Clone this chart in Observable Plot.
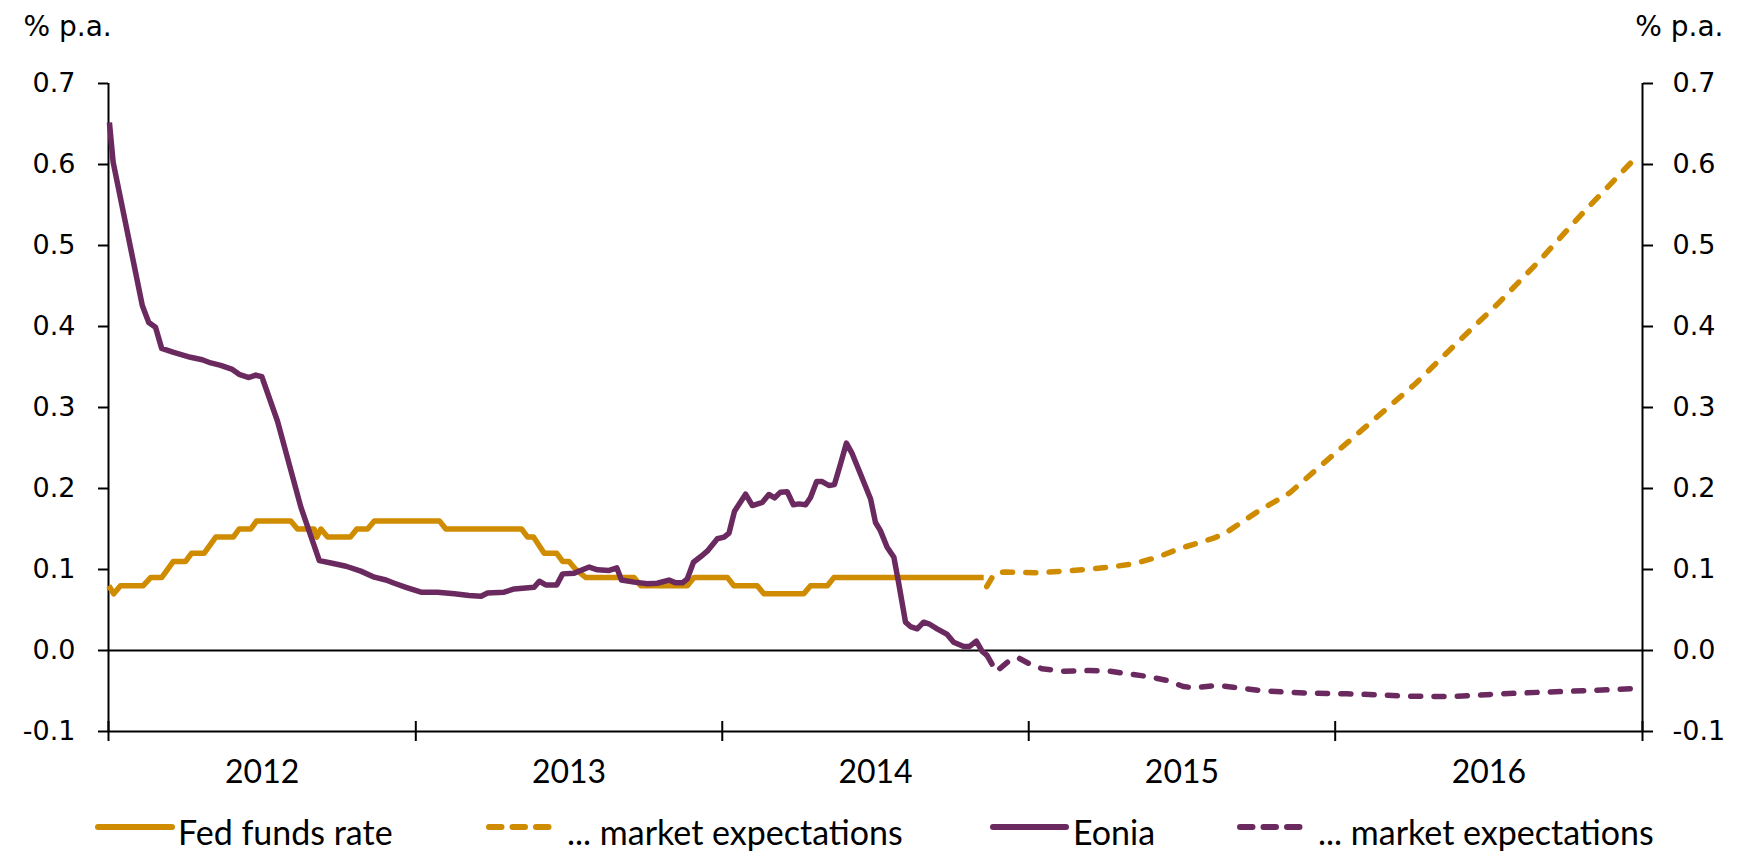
<!DOCTYPE html>
<html>
<head>
<meta charset="utf-8">
<script src="https://cdn.jsdelivr.net/npm/d3@7"></script>
<script src="https://cdn.jsdelivr.net/npm/@observablehq/plot@0.6"></script>
<style>
  html, body { margin: 0; padding: 0; background: #fff; }
  #chart { position: relative; width: 1742px; height: 854px; font-family: Lato, sans-serif; color: #000; }
  #chart svg.plot { display: block; }
  #legend { position: absolute; left: 0; top: 800px; width: 1742px; height: 54px; }
  .sw { position: absolute; top: 27px; }
  .lt { position: absolute; top: 5px; line-height: 54px; font-size: 34px; white-space: nowrap; }
</style>
</head>
<body>
<div id="chart"><div id="legend"></div></div>
<script>
// ---------- data (time as decimal years) ----------
const fedYears = [2012.001, 2012.017, 2012.039, 2012.113, 2012.137, 2012.173, 2012.211, 2012.251, 2012.270, 2012.311,
  2012.349, 2012.406, 2012.425, 2012.463, 2012.482, 2012.593, 2012.615, 2012.669, 2012.678, 2012.691,
  2012.713, 2012.787, 2012.808, 2012.843, 2012.865, 2013.077, 2013.098, 2013.345, 2013.365, 2013.384,
  2013.419, 2013.460, 2013.479, 2013.500, 2013.522, 2013.555, 2013.712, 2013.734, 2013.886, 2013.908,
  2014.017, 2014.038, 2014.114, 2014.136, 2014.266, 2014.288, 2014.343, 2014.364, 2014.853];
const fedRates = [0.08, 0.07, 0.08, 0.08, 0.09, 0.09, 0.11, 0.11, 0.12, 0.12,
  0.14, 0.14, 0.15, 0.15, 0.16, 0.16, 0.15, 0.15, 0.14, 0.15,
  0.14, 0.14, 0.15, 0.15, 0.16, 0.16, 0.15, 0.15, 0.14, 0.14,
  0.12, 0.12, 0.11, 0.11, 0.10, 0.09, 0.09, 0.08, 0.08, 0.09,
  0.09, 0.08, 0.08, 0.07, 0.07, 0.08, 0.08, 0.09, 0.09];

const fedExpYears = [2014.863, 2014.888, 2014.921, 2015.028, 2015.113, 2015.185, 2015.266, 2015.341, 2015.419, 2015.494,
  2015.598, 2015.638, 2015.745, 2015.853, 2015.934, 2016.016, 2016.123, 2016.260, 2016.394, 2016.529,
  2016.664, 2016.798, 2016.982];
const fedExpRates = [0.079, 0.095, 0.097, 0.096, 0.098, 0.100, 0.103, 0.107, 0.115, 0.126,
  0.138, 0.144, 0.171, 0.195, 0.222, 0.249, 0.284, 0.329, 0.379, 0.428,
  0.481, 0.537, 0.61];

const eoniaYears = [2012.003, 2012.015, 2012.110, 2012.131, 2012.153, 2012.173, 2012.212, 2012.267, 2012.305, 2012.333,
  2012.365, 2012.403, 2012.425, 2012.457, 2012.479, 2012.499, 2012.550, 2012.626, 2012.686, 2012.724,
  2012.773, 2012.821, 2012.865, 2012.903, 2012.930, 2012.968, 2013.017, 2013.071, 2013.126, 2013.174,
  2013.213, 2013.234, 2013.288, 2013.321, 2013.386, 2013.403, 2013.424, 2013.460, 2013.479, 2013.517,
  2013.566, 2013.593, 2013.631, 2013.656, 2013.671, 2013.712, 2013.756, 2013.788, 2013.826, 2013.848,
  2013.870, 2013.886, 2013.906, 2013.930, 2013.951, 2013.984, 2014.006, 2014.022, 2014.040, 2014.076,
  2014.098, 2014.131, 2014.152, 2014.171, 2014.190, 2014.212, 2014.232, 2014.250, 2014.272, 2014.288,
  2014.308, 2014.326, 2014.348, 2014.366, 2014.386, 2014.405, 2014.424, 2014.451, 2014.484, 2014.500,
  2014.516, 2014.538, 2014.560, 2014.576, 2014.598, 2014.614, 2014.636, 2014.657, 2014.674, 2014.701,
  2014.734, 2014.755, 2014.788, 2014.807, 2014.829, 2014.848, 2014.864];
const eoniaRates = [0.652, 0.603, 0.426, 0.405, 0.399, 0.373, 0.368, 0.362, 0.359, 0.355,
  0.352, 0.347, 0.341, 0.337, 0.340, 0.338, 0.283, 0.177, 0.111, 0.108,
  0.104, 0.098, 0.0905, 0.087, 0.083, 0.078, 0.072, 0.072, 0.070, 0.068,
  0.067, 0.071, 0.072, 0.076, 0.078, 0.0855, 0.081, 0.081, 0.0946, 0.0955,
  0.103, 0.0996, 0.0988, 0.102, 0.087, 0.0844, 0.0823, 0.083, 0.087, 0.0835,
  0.0835, 0.0885, 0.109, 0.116, 0.1226, 0.138, 0.14, 0.145, 0.172, 0.193,
  0.179, 0.183, 0.1926, 0.1885, 0.1955, 0.196, 0.180, 0.181, 0.180, 0.189,
  0.2086, 0.2086, 0.2037, 0.205, 0.2305, 0.256, 0.243, 0.218, 0.187, 0.158,
  0.148, 0.1275, 0.115, 0.0823, 0.035, 0.0296, 0.0268, 0.035, 0.033, 0.0268,
  0.0198, 0.0103, 0.0049, 0.005, 0.0115, -0.001, -0.006];

const eoniaExpYears = [2014.864, 2014.894, 2014.940, 2014.966, 2015.005, 2015.044, 2015.113, 2015.200, 2015.266, 2015.308,
  2015.387, 2015.452, 2015.504, 2015.537, 2015.615, 2015.667, 2015.755, 2015.843, 2015.918, 2016.039,
  2016.146, 2016.221, 2016.364, 2016.449, 2016.537, 2016.677, 2016.831, 2017.0];
const eoniaExpRates = [-0.006, -0.026, -0.0115, -0.009, -0.017, -0.0226, -0.0255, -0.0247, -0.0255, -0.028,
  -0.032, -0.037, -0.0444, -0.046, -0.0432, -0.0453, -0.0494, -0.0514, -0.0527, -0.0535,
  -0.0547, -0.0564, -0.0568, -0.0556, -0.0535, -0.0514, -0.0494, -0.0465];

const yTicks = [-0.1, 0.0, 0.1, 0.2, 0.3, 0.4, 0.5, 0.6, 0.7];
const yearBoundaries = [2012, 2013, 2014, 2015, 2016, 2017];
const yearLabelPositions = [2012.5, 2013.5, 2014.5, 2015.5, 2016.5];
const unitLabel = "% p.a.";
const seriesNames = ["Fed funds rate", "... market expectations", "Eonia", "... market expectations"];
const seriesColors = ["#D08C00", "#D08C00", "#6B2A5F", "#6B2A5F"];
const seriesDashed = [false, true, false, true];

// ---------- helpers ----------
const toDate = t => {
  const y = Math.floor(t);
  const a = Date.UTC(y, 0, 1), b = Date.UTC(y + 1, 0, 1);
  return new Date(a + (t - y) * (b - a));
};
const rows = (years, values) => years.map((t, i) => ({date: toDate(t), value: values[i]}));
const seriesData = [
  rows(fedYears, fedRates),
  rows(fedExpYears, fedExpRates),
  rows(eoniaYears, eoniaRates),
  rows(eoniaExpYears, eoniaExpRates)
];
const DASH = "10,13.3";
const fmt = d => d.toFixed(1);
const xStart = toDate(yearBoundaries[0]);
const xEnd = toDate(yearBoundaries[yearBoundaries.length - 1]);
const axisFont = "'DejaVu Sans', Verdana, sans-serif";

const lineMarks = seriesData.map((data, i) => Plot.line(data, {
  x: "date", y: "value",
  stroke: seriesColors[i], strokeWidth: 5.5,
  strokeLinejoin: "round", strokeLinecap: seriesDashed[i] ? "round" : "butt",
  strokeDasharray: seriesDashed[i] ? DASH : null
}));

const chart = Plot.plot({
  width: 1742, height: 800,
  marginLeft: 108, marginRight: 100, marginTop: 83, marginBottom: 69,
  style: {fontFamily: "Lato, sans-serif", color: "#000", background: "#fff"},
  x: {type: "utc", domain: [xStart, xEnd]},
  y: {domain: [-0.1, 0.7]},
  marks: [
    Plot.ruleY([0], {stroke: "#000", strokeWidth: 2}),
    Plot.ruleY([-0.1], {stroke: "#000", strokeWidth: 2}),
    Plot.ruleX([xStart, xEnd], {y1: -0.1, y2: 0.7, stroke: "#000", strokeWidth: 2}),
    Plot.ruleX(yearBoundaries.map(toDate), {y1: -0.1, y2: -0.1, insetTop: 10, insetBottom: 10, stroke: "#000", strokeWidth: 2}),
    Plot.axisY({anchor: "left", ticks: yTicks, tickSize: 10, tickPadding: 23, tickFormat: fmt, fontSize: 27, fontFamily: axisFont, label: null, strokeWidth: 2}),
    Plot.axisY({anchor: "right", ticks: yTicks, tickSize: 10, tickPadding: 20, tickFormat: fmt, fontSize: 27, fontFamily: axisFont, label: null, strokeWidth: 2}),
    Plot.axisX({ticks: yearLabelPositions.map(toDate), tickSize: 0, tickPadding: 29, tickFormat: d3.utcFormat("%Y"), fontSize: 32, label: null}),
    ...lineMarks,
    Plot.text([unitLabel], {text: d => d, frameAnchor: "top-left", dx: -85, dy: -48, textAnchor: "start", lineAnchor: "bottom", fontSize: 28, fontFamily: axisFont, fill: "#000"}),
    Plot.text([unitLabel], {text: d => d, frameAnchor: "top-right", dx: 81, dy: -48, textAnchor: "end", lineAnchor: "bottom", fontSize: 28, fontFamily: axisFont, fill: "#000"})
  ]
});
const root = document.getElementById("chart");
root.insertBefore(chart, root.firstChild);

// ---------- legend ----------
const legend = document.getElementById("legend");
const swatchLeft = [98, 489, 993, 1240];
const swatchWidth = [74, 66, 73, 64];
const textLeft = [178, 567, 1073, 1318];
seriesNames.forEach((name, i) => {
  const ns = "http://www.w3.org/2000/svg";
  const svg = document.createElementNS(ns, "svg");
  svg.setAttribute("class", "sw");
  svg.setAttribute("width", swatchWidth[i] + 6);
  svg.setAttribute("height", 10);
  svg.style.left = (swatchLeft[i] - 3) + "px";
  svg.style.marginTop = "-5px";
  const ln = document.createElementNS(ns, "line");
  ln.setAttribute("x1", 3); ln.setAttribute("x2", swatchWidth[i] + 3);
  ln.setAttribute("y1", 5); ln.setAttribute("y2", 5);
  ln.setAttribute("stroke", seriesColors[i]);
  ln.setAttribute("stroke-width", 6);
  ln.setAttribute("stroke-linecap", "round");
  if (seriesDashed[i]) ln.setAttribute("stroke-dasharray", "12.5,11");
  svg.appendChild(ln);
  legend.appendChild(svg);
  const sp = document.createElement("span");
  sp.className = "lt";
  sp.style.left = textLeft[i] + "px";
  sp.textContent = name;
  legend.appendChild(sp);
});
</script>
</body>
</html>
